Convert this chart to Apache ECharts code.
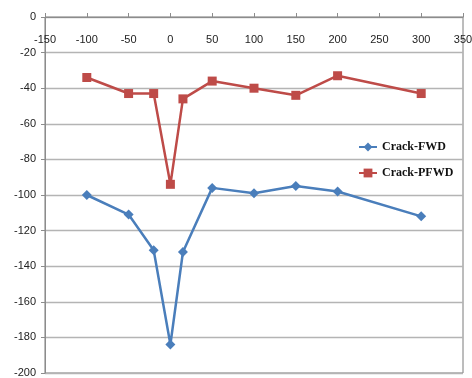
<!DOCTYPE html>
<html>
<head>
<meta charset="utf-8">
<script src="https://cdn.jsdelivr.net/npm/echarts@6/dist/echarts.min.js"></script>
<style>
html,body{margin:0;padding:0;background:#fff;}
#chart{width:472px;height:378px;}
</style>
</head>
<body>
<div id="chart"></div>
<script>
var xValues = [-100, -50, -20, 0, 15, 50, 100, 150, 200, 300];
var crackFWD = [-100, -111, -131, -184, -132, -96, -99, -95, -98, -112];
var crackPFWD = [-34, -43, -43, -94, -46, -36, -40, -44, -33, -43];
var seriesNames = ['Crack-FWD', 'Crack-PFWD'];

function pairs(xs, ys) {
  return xs.map(function (x, i) { return [x, ys[i]]; });
}

var chart = echarts.init(document.getElementById('chart'), null, {renderer: 'canvas'});
chart.setOption({
  animation: false,
  backgroundColor: '#ffffff',
  grid: {
    left: 45, top: 17, right: 9, bottom: 5,
    containLabel: false, outerBoundsMode: 'none',
    show: true, borderColor: '#7a7a7a', borderWidth: 1, backgroundColor: 'transparent'
  },
  legend: {
    orient: 'vertical',
    left: 353, top: 136,
    itemWidth: 18, itemHeight: 11, itemGap: 14,
    data: seriesNames,
    textStyle: {fontFamily: 'Liberation Serif', fontWeight: 'bold', fontSize: 12, color: '#111'}
  },
  xAxis: {
    type: 'value', min: -150, max: 350, interval: 50,
    position: 'top',
    axisLine: {show: true, onZero: false, lineStyle: {color: '#8c8c8c', width: 1}},
    axisTick: {show: true, inside: false, length: 4, lineStyle: {color: '#8c8c8c'}},
    axisLabel: {inside: true, margin: 17, fontFamily: 'Liberation Sans', fontSize: 11, color: '#222'},
    splitLine: {show: false}
  },
  yAxis: {
    type: 'value', min: -200, max: 0, interval: 20,
    axisLine: {show: true, onZero: false, lineStyle: {color: '#8c8c8c', width: 1}},
    axisTick: {show: true, inside: false, length: 4, lineStyle: {color: '#8c8c8c'}},
    axisLabel: {margin: 9, fontFamily: 'Liberation Sans', fontSize: 11, color: '#222'},
    splitLine: {show: true, lineStyle: {color: '#b4b4b4', width: 1.3}}
  },
  series: [
    {
      name: seriesNames[0], type: 'line', data: pairs(xValues, crackFWD),
      symbol: 'diamond', symbolSize: 10,
      lineStyle: {color: '#4a7ebb', width: 2.5},
      itemStyle: {color: '#4a7ebb'}
    },
    {
      name: seriesNames[1], type: 'line', data: pairs(xValues, crackPFWD),
      symbol: 'rect', symbolSize: 9,
      lineStyle: {color: '#be4b48', width: 2.5},
      itemStyle: {color: '#be4b48'}
    }
  ]
});
</script>
</body>
</html>
